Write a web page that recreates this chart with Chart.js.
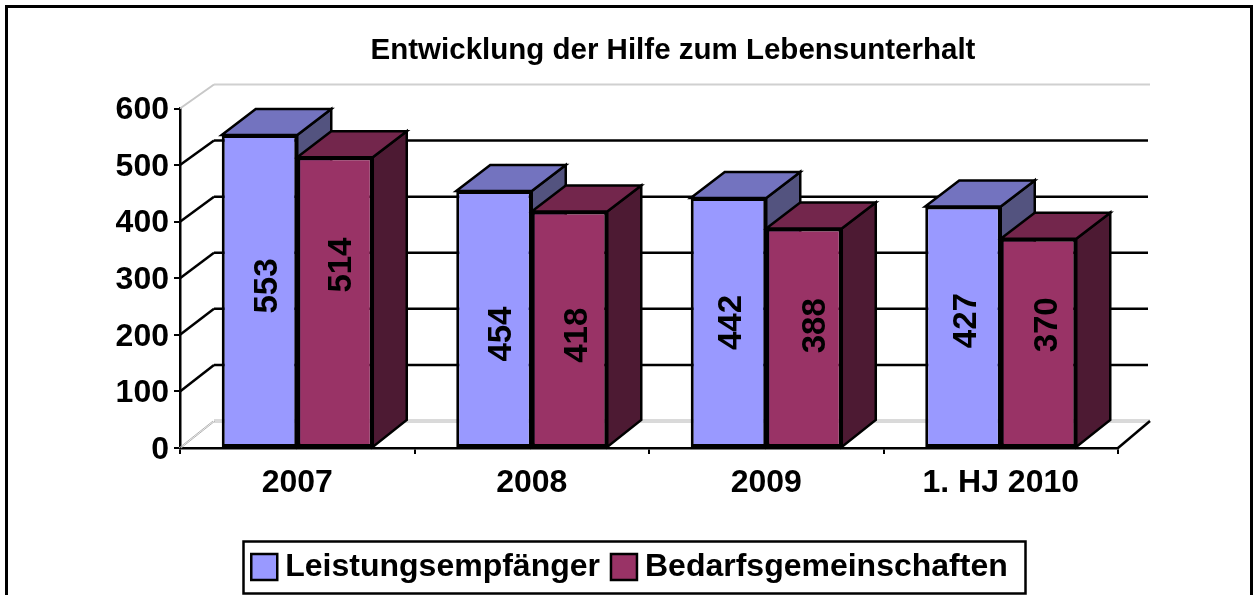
<!DOCTYPE html>
<html>
<head>
<meta charset="utf-8">
<style>
  body { margin: 0; background: #fff; }
  canvas { display: block; }
</style>
<script src="https://cdn.jsdelivr.net/npm/chart.js@4/dist/chart.umd.js"></script>
</head>
<body>
<canvas id="myChart" width="1254" height="595"></canvas>
<script>
var categories = ["2007", "2008", "2009", "1. HJ 2010"];
var leistungsempfaenger = [553, 454, 442, 427];
var bedarfsgemeinschaften = [514, 418, 388, 370];
var yTicks = [0, 100, 200, 300, 400, 500, 600];

// hand-moved data labels in the original, offsets from the middle of each bar
var labelShiftX = [[8, 8, 3, 4], [7, 8, 12, 9]];
var labelShiftY = [[-5, 15, 0, -6], [-37, 6, -12, -18]];

var FONT = "'Liberation Sans', Arial, sans-serif";
var depthX = 34;
var depthY = 26;
var bottomPad = 2;

function poly(ctx, pts, fill) {
  ctx.beginPath();
  ctx.moveTo(pts[0][0], pts[0][1]);
  for (var i = 1; i < pts.length; i++) ctx.lineTo(pts[i][0], pts[i][1]);
  ctx.closePath();
  ctx.fillStyle = fill;
  ctx.fill();
  ctx.stroke();
}

function line(ctx, x1, y1, x2, y2, color, width) {
  ctx.strokeStyle = color;
  ctx.lineWidth = width;
  ctx.beginPath();
  ctx.moveTo(x1, y1);
  ctx.lineTo(x2, y2);
  ctx.stroke();
}

var fake3d = {
  id: "fake3d",
  afterLayout: function (chart) {
    // title and legend do not sit over the plot, so move them back
    chart.legend.left = 0;
    chart.legend.right = 1251;
    chart.titleBlock.left = 92;
    chart.titleBlock.right = 1254;
    // value labels sit a bit below their tick in the original
    chart.scales.y.getLabelItems().forEach(function (item) {
      item.options.translation[1] += 2;
    });
  },
  beforeDraw: function (chart) {
    var ctx = chart.ctx;
    ctx.save();
    ctx.strokeStyle = "#000";
    ctx.lineWidth = 3;
    ctx.strokeRect(6.5, 6.5, 1245, 600);
    ctx.lineWidth = 2.5;
    ctx.strokeRect(243.5, 541.5, 782, 52);
    ctx.restore();
  },
  beforeDatasetsDraw: function (chart) {
    var ctx = chart.ctx;
    var y = chart.scales.y;
    var area = chart.chartArea;
    ctx.save();
    yTicks.forEach(function (v) {
      var yf = y.getPixelForValue(v);
      var yb = yf - (27 - 3 * v / 600);
      if (v === 0) {
        [-1, 1].forEach(function (d) {
          line(ctx, area.left + d, yf, area.left + depthX + d, yb, "#b4b4b4", 1);
          line(ctx, area.left + depthX, yb + d, area.right + 32, yb + d, "#b4b4b4", 1);
        });
      } else if (v === 600) {
        line(ctx, area.left, yf, area.left + depthX, yb, "#c8c8c8", 2);
        line(ctx, area.left + depthX, yb, area.right + 32, yb, "#d0d0d0", 2);
      } else {
        line(ctx, area.left, yf, area.left + depthX, yb, "#000", 2.5);
        line(ctx, area.left + depthX, yb, area.right + 30, yb, "#000", 2.5);
      }
    });
    line(ctx, area.right, area.bottom, area.right + 32, area.bottom - 27, "#000", 2.5);

    // top and side faces, the fronts are the library's own bars drawn after this
    ctx.strokeStyle = "#000";
    ctx.lineWidth = 2.5;
    ctx.lineJoin = "miter";
    chart.data.datasets.forEach(function (ds, i) {
      chart.getDatasetMeta(i).data.forEach(function (bar) {
        var l = bar.x - bar.width / 2;
        var r = bar.x + bar.width / 2;
        poly(ctx, [[r, bar.y], [r + depthX, bar.y - depthY], [r + depthX, bar.base - 27], [r, bar.base]], ds.sideColor);
        poly(ctx, [[l, bar.y], [l + depthX, bar.y - depthY], [r + depthX, bar.y - depthY], [r, bar.y]], ds.topColor);
      });
    });
    ctx.restore();
  },
  afterDatasetsDraw: function (chart) {
    var ctx = chart.ctx;
    ctx.save();
    ctx.fillStyle = "#000";
    ctx.font = "bold 33px " + FONT;
    ctx.textAlign = "center";
    ctx.textBaseline = "middle";
    chart.data.datasets.forEach(function (ds, i) {
      chart.getDatasetMeta(i).data.forEach(function (bar, j) {
        ctx.save();
        ctx.translate(bar.x + labelShiftX[i][j], (bar.y + bar.base) / 2 + labelShiftY[i][j]);
        ctx.rotate(-Math.PI / 2);
        ctx.fillText(String(ds.data[j]), 0, 0);
        ctx.restore();
      });
    });
    ctx.restore();
  },
  afterDraw: function (chart) {
    // the legend's swatches sit closer to their text than the library allows
    var ctx = chart.ctx;
    ctx.save();
    ctx.strokeStyle = "#000";
    ctx.lineWidth = 2.5;
    chart.legend.legendHitBoxes.forEach(function (hit, i) {
      ctx.fillStyle = chart.data.datasets[i].backgroundColor;
      ctx.beginPath();
      ctx.rect(hit.left + 8, hit.top + (hit.height - 26) / 2, 26, 26);
      ctx.fill();
      ctx.stroke();
    });
    ctx.restore();
  },
};

var ctx = document.getElementById("myChart");
var myChart = new Chart(ctx, {
  type: "bar",
  data: {
    labels: categories,
    datasets: [
      {
        label: "Leistungsempfänger",
        data: leistungsempfaenger,
        backgroundColor: "#9999ff",
        topColor: "#7373bf",
        sideColor: "#53537f",
        borderColor: "#000",
        borderWidth: 3,
        borderSkipped: false,
      },
      {
        label: "Bedarfsgemeinschaften",
        data: bedarfsgemeinschaften,
        backgroundColor: "#993366",
        topColor: "#73264c",
        sideColor: "#4d1a33",
        borderColor: "#000",
        borderWidth: 3,
        borderSkipped: false,
      },
    ],
  },
  options: {
    responsive: false,
    animation: false,
    events: [],
    layout: { padding: { right: 136, bottom: bottomPad } },
    datasets: { bar: { categoryPercentage: 0.644, barPercentage: 1 } },
    plugins: {
      tooltip: { enabled: false },
      title: {
        display: true,
        text: "Entwicklung der Hilfe zum Lebensunterhalt",
        color: "#000",
        font: { family: FONT, size: 29.5, weight: "bold", lineHeight: 1.2 },
        padding: { top: 33, bottom: 40.1 },
      },
      legend: {
        position: "bottom",
        labels: {
          color: "#000",
          font: { family: FONT, size: 32, weight: "bold" },
          boxWidth: 26,
          boxHeight: 26,
          padding: 3,
          generateLabels: function (chart) {
            return Chart.defaults.plugins.legend.labels.generateLabels(chart).map(function (item) {
              item.fillStyle = "rgba(0,0,0,0)";
              item.strokeStyle = "rgba(0,0,0,0)";
              return item;
            });
          },
        },
      },
    },
    scales: {
      x: {
        afterFit: function (scale) {
          scale.height = 595 - bottomPad - 448 - scale.chart.legend.height;
        },
        grid: { drawOnChartArea: false, color: "#000", tickLength: 6, lineWidth: 2 },
        border: { color: "#000", width: 2.5 },
        ticks: { color: "#000", font: { family: FONT, size: 32, weight: "bold" }, padding: 10, maxRotation: 0 },
      },
      y: {
        min: 0,
        max: 600,
        afterFit: function (scale) {
          scale.width = 180;
        },
        afterBuildTicks: function (scale) {
          scale.ticks = yTicks.map(function (v) { return { value: v }; });
        },
        grid: { drawOnChartArea: false, color: "#000", tickLength: 6, lineWidth: 2 },
        border: { color: "#000", width: 2.5 },
        ticks: { color: "#000", font: { family: FONT, size: 32, weight: "bold" }, padding: 5 },
      },
    },
  },
  plugins: [fake3d],
});
</script>
</body>
</html>
